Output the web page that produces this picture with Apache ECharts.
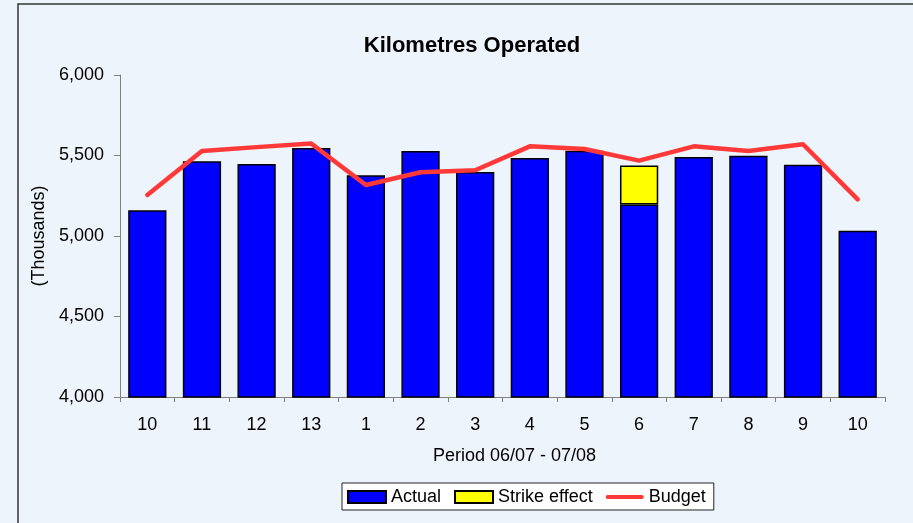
<!DOCTYPE html>
<html>
<head>
<meta charset="utf-8">
<script src="https://cdn.jsdelivr.net/npm/echarts@6/dist/echarts.min.js"></script>
<style>
  html, body { margin: 0; padding: 0; background: #eef4fb; }
  #main { width: 913px; height: 523px; }
</style>
</head>
<body>
<div id="main"></div>
<script>
var periods = ['10', '11', '12', '13', '1', '2', '3', '4', '5', '6', '7', '8', '9', '10'];
var actual = [5160, 5465, 5447, 5547, 5378, 5528, 5398, 5484, 5530, 5195, 5491, 5499, 5443, 5033];
var strike = ['-', '-', '-', '-', '-', '-', '-', '-', '-', 243, '-', '-', '-', '-'];
var budget = [5255, 5528, 5552, 5574, 5317, 5396, 5408, 5557, 5540, 5468, 5557, 5528, 5570, 5228];

var font = 'Arial, "Liberation Sans", sans-serif';
var chart = echarts.init(document.getElementById('main'));

chart.setOption({
  backgroundColor: '#eef4fb',
  animation: false,
  textStyle: { fontFamily: font },
  graphic: [{
    type: 'rect',
    shape: { x: 18, y: 4, width: 1000, height: 1000 },
    style: { fill: 'none', stroke: '#333', lineWidth: 1.5 },
    silent: true
  }],
  title: {
    text: 'Kilometres Operated',
    left: 467,
    textAlign: 'center',
    top: 30,
    textStyle: { fontSize: 22, fontWeight: 'bold', color: '#000', fontFamily: font }
  },
  legend: {
    left: 342,
    top: 483,
    backgroundColor: '#fff',
    borderColor: '#222',
    borderWidth: 1,
    borderRadius: 0,
    padding: [5, 8, 4, 5],
    itemGap: 13,
    itemWidth: 38,
    itemHeight: 12,
    symbolKeepAspect: true,
    textStyle: { fontSize: 18, color: '#000', fontFamily: font, padding: [0, 0, 0, 0] },
    data: [
      { name: 'Actual', icon: 'rect' },
      { name: 'Strike effect', icon: 'rect' },
      { name: 'Budget', icon: 'path://M2,0L38,0A2,2,0,0,1,38,4L2,4A2,2,0,0,1,2,0Z', itemStyle: { color: '#ff3838', borderWidth: 0 } }
    ]
  },
  grid: { left: 120, right: 28, top: 75, bottom: 126 },
  xAxis: {
    type: 'category',
    data: periods,
    name: 'Period 06/07 - 07/08',
    nameLocation: 'middle',
    nameGap: 50,
    nameTextStyle: { fontSize: 18, color: '#000', fontFamily: font, padding: [0, 0, 0, 24] },
    axisLine: { lineStyle: { color: '#808080', width: 1 } },
    axisTick: { show: true, length: 5, lineStyle: { color: '#808080' } },
    axisLabel: { fontSize: 18, color: '#000', margin: 19, fontFamily: font }
  },
  yAxis: {
    type: 'value',
    min: 4000,
    max: 6000,
    interval: 500,
    name: '(Thousands)',
    nameLocation: 'middle',
    nameGap: 68,
    nameTextStyle: { fontSize: 18, color: '#000', fontFamily: font },
    axisLine: { show: true, lineStyle: { color: '#808080', width: 1 } },
    axisTick: { show: true, length: 6, inside: false, lineStyle: { color: '#808080' } },
    axisLabel: { fontSize: 18, color: '#000', margin: 16, fontFamily: font },
    splitLine: { show: false }
  },
  series: [
    {
      name: 'Actual',
      type: 'bar',
      stack: 'km',
      barWidth: '70%',
      data: actual,
      itemStyle: { color: '#0000ff', borderColor: '#000', borderWidth: 1.5 }
    },
    {
      name: 'Strike effect',
      type: 'bar',
      stack: 'km',
      barWidth: '70%',
      data: strike,
      itemStyle: { color: '#ffff00', borderColor: '#000', borderWidth: 1.5 }
    },
    {
      name: 'Budget',
      type: 'line',
      data: budget,
      symbol: 'none',
      lineStyle: { color: '#ff3838', width: 4.5, cap: 'round', join: 'round' },
      itemStyle: { color: '#ff3838' }
    }
  ]
});
</script>
</body>
</html>
